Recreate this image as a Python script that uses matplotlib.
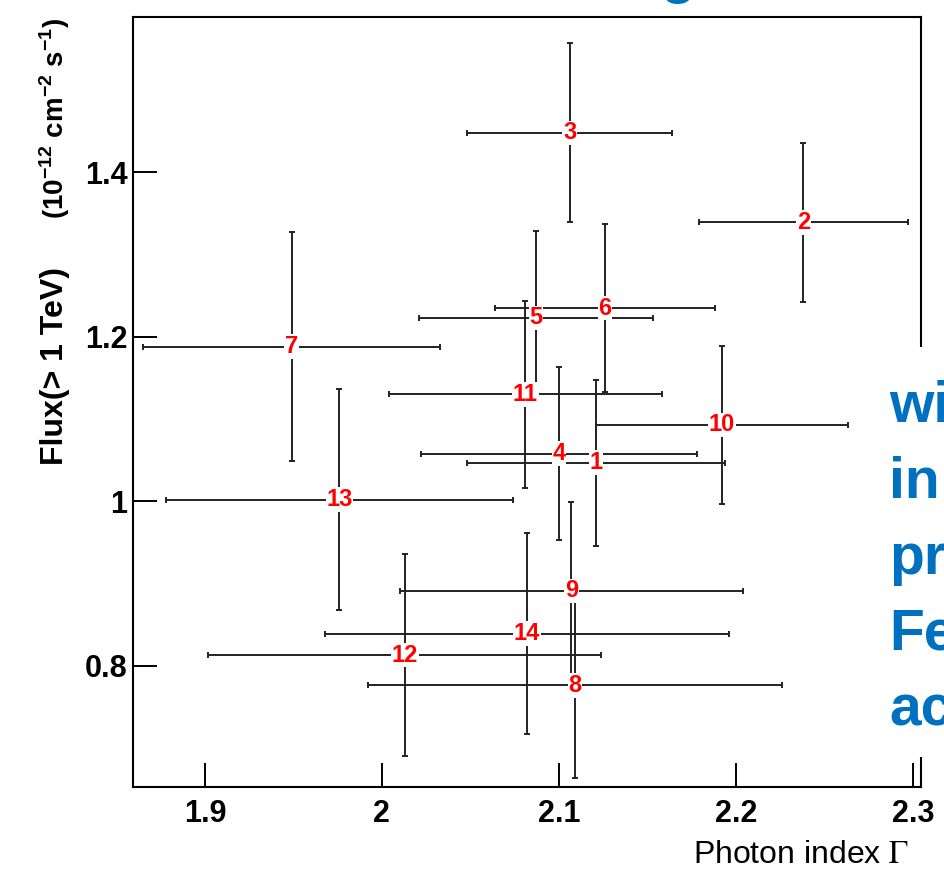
import matplotlib
matplotlib.use("Agg")
import matplotlib.pyplot as plt
from matplotlib.patches import Rectangle
from matplotlib.ticker import FuncFormatter, FixedLocator

plt.rcParams['font.family'] = ['Liberation Sans', 'DejaVu Sans']
plt.rcParams['mathtext.fontset'] = 'custom'
plt.rcParams['mathtext.rm'] = 'Liberation Sans:bold'
plt.rcParams['mathtext.bf'] = 'Liberation Sans:bold'

# source numbers
labels = ['1', '2', '3', '4', '5', '6', '7', '8', '9', '10', '11', '12', '13', '14']
# photon index and its error
gamma = [2.121, 2.238, 2.106, 2.100, 2.087, 2.126, 1.949, 2.109, 2.107, 2.192, 2.081, 2.013, 1.976, 2.082]
gamma_err = [0.073, 0.059, 0.058, 0.078, 0.066, 0.062, 0.084, 0.117, 0.097, 0.071, 0.077, 0.111, 0.098, 0.114]
# flux above 1 TeV (1e-12 cm-2 s-1) and its error
flux = [1.047, 1.339, 1.448, 1.058, 1.223, 1.235, 1.188, 0.776, 0.891, 1.093, 1.130, 0.813, 1.002, 0.839]
flux_err = [0.101, 0.097, 0.109, 0.105, 0.106, 0.102, 0.139, 0.112, 0.108, 0.096, 0.114, 0.123, 0.134, 0.122]

xticks = [1.9, 2.0, 2.1, 2.2, 2.3]
yticks = [0.8, 1.0, 1.2, 1.4]

W, H = 944, 881
fig = plt.figure(figsize=(W / 100, H / 100), dpi=100)
ax = fig.add_axes([133 / W, 1 - 787 / H, (920.7 - 133) / W, (787 - 17.5) / H])

ax.errorbar(gamma, flux, xerr=gamma_err, yerr=flux_err, fmt='none',
            ecolor='#222222', elinewidth=1.4, capsize=2.5, capthick=1.4)
for lab, x, y in zip(labels, gamma, flux):
    ax.text(x, y, lab, color='#ff0000', fontsize=17, fontweight='bold',
            ha='center', va='center', zorder=5,
            bbox=dict(facecolor='white', edgecolor='none', pad=0.5))

ax.set_xlim(1.8594, 2.3043)
ax.set_ylim(0.6525, 1.5883)
ax.xaxis.set_major_locator(FixedLocator(xticks))
ax.yaxis.set_major_locator(FixedLocator(yticks))
fmt = FuncFormatter(lambda v, p: '%g' % round(v, 2))
ax.xaxis.set_major_formatter(fmt)
ax.yaxis.set_major_formatter(fmt)
ax.tick_params(direction='in', length=17, width=1.4, top=False, right=False,
               labelsize=22)
ax.tick_params(axis='x', pad=9)
ax.tick_params(axis='y', pad=4)
for lbl in ax.get_xticklabels() + ax.get_yticklabels():
    lbl.set_fontweight('bold')
for s in ax.spines.values():
    s.set_linewidth(1.5)

# y title in two pieces (ROOT style, wide gap)
fig.text(55 / W, 1 - 465 / H, 'Flux(> 1 TeV)', rotation=90, ha='center',
         va='bottom', fontsize=23, fontweight='bold')
fig.text(55 / W, 1 - 18 / H, r'(10$^{-12}$ cm$^{-2}$ s$^{-1}$)',
         rotation=90, ha='center', va='top', fontsize=20, fontweight='bold')
fig.text(909 / W, 1 - 863 / H, r'Photon index $\Gamma$', ha='right',
         va='baseline', fontsize=23, math_fontfamily='stix')

# slide text overlapping the chart on the right
fig.add_artist(Rectangle((885 / W, 1 - 757 / H), 60 / W, (757 - 347) / H,
                         transform=fig.transFigure, facecolor='white',
                         edgecolor='none', zorder=5))
blue = '#0070c0'
for txt, base in zip(['wi', 'in', 'pr', 'Fe', 'ac'], [422, 498, 574, 650, 726]):
    fig.text(889 / W, 1 - base / H, txt, color=blue, fontsize=41,
             fontweight='bold', va='baseline', ha='left', zorder=6)
fig.text(678 / W, 1 + 8 / H, 'g', color=blue, fontsize=41, fontweight='bold',
         va='baseline', ha='center', zorder=6)

fig.savefig('out.png', dpi=100)
